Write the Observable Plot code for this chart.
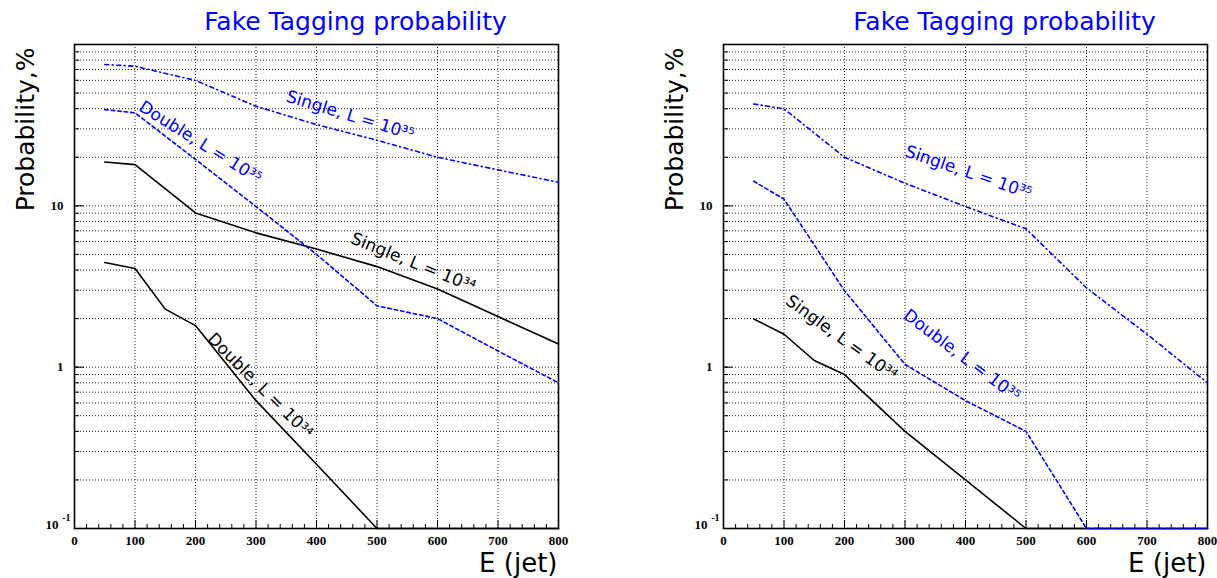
<!DOCTYPE html>
<html><head><meta charset="utf-8">
<script src="https://cdn.jsdelivr.net/npm/d3@7"></script>
<script src="https://cdn.jsdelivr.net/npm/@observablehq/plot@0.6"></script>
<style>
body{margin:0;background:#fff;}
#wrap{position:relative;width:1217px;height:578px;overflow:hidden;}
#wrap svg{position:absolute;top:0;}
</style></head><body><div id="wrap"></div>
<script>
// ---- Data ----
const titleText = "Fake Tagging probability";
const yLabelText = "Probability,%";
const xLabelText = "E (jet)";

const xTickValues = [0, 100, 200, 300, 400, 500, 600, 700, 800];
const xGridValues = [100, 200, 300, 400, 500, 600, 700];
const xMinorValues = d3.range(20, 800, 20).filter(v => v % 100 !== 0);
const yTickValues = [1, 10];
const yTickLabels = ["1", "10"];
const yGridValues = [0.2,0.3,0.4,0.5,0.6,0.7,0.8,0.9,1,2,3,4,5,6,7,8,9,10,20,30,40,50,60,70,80,90];
const yMajorValues = [1, 10];
const yBottomMantissa = "10";
const yBottomExponent = "-1";

// Left panel
const leftSingle35E = [50,100,200,300,400,500,600,700,800];
const leftSingle35P = [75.2,73.3,59.9,41.4,31.9,25.5,20,16.7,14];
const leftDouble35E = [50,100,200,300,400,500,600,700,800];
const leftDouble35P = [39.5,37.7,19.4,9.9,5.0,2.4,2.0,1.26,0.8];
const leftSingle34E = [50,100,200,300,400,500,600,700,800];
const leftSingle34P = [18.7,18.0,9.03,6.8,5.4,4.2,3.05,2.06,1.39];
const leftDouble34E = [50,100,150,200,300,400,500,600,700,800];
const leftDouble34P = [4.45,4.09,2.29,1.81,0.62,0.25,0.1,0.1,0.1,0.1];

// Right panel
const rightSingle35E = [50,100,200,300,400,500,600,700,800];
const rightSingle35P = [42.8,39.9,20,13.8,9.9,7.2,3.1,1.6,0.8];
const rightDouble35E = [50,100,200,300,400,500,600,700,800];
const rightDouble35P = [14.2,11.0,2.98,1.04,0.62,0.4,0.1,0.1,0.1];
const rightSingle34E = [50,100,150,200,300,400,500,600,700,800];
const rightSingle34P = [1.99,1.6,1.1,0.9,0.4,0.2,0.1,0.1,0.1,0.1];

// Curve labels: text, anchor E, anchor P, angle
const leftLabelText  = ["Single, L = 10³⁵", "Double, L = 10³⁵", "Single, L = 10³⁴", "Double, L = 10³⁴"];
const leftLabelE     = [456, 208, 560, 307];
const leftLabelP     = [36.3, 24.7, 4.45, 0.767];
const leftLabelAngle = [17, 32, 22, 45];
const leftLabelKind  = ["35", "35", "34", "34"];

const rightLabelText  = ["Single, L = 10³⁵", "Double, L = 10³⁵", "Single, L = 10³⁴"];
const rightLabelE     = [405, 394, 195];
const rightLabelP     = [16.1, 1.18, 1.52];
const rightLabelAngle = [19, 37, 36];
const rightLabelKind  = ["35", "35", "34"];

// ---- Styles ----
const BLUE = "#0000ff";
const SANS = "DejaVu Sans";
const SERIF = "Liberation Serif";

function zip(E, P) { return E.map((e, i) => ({e, p: P[i]})); }
function labels(T, E, P, A, K) { return T.map((t, i) => ({t, e: E[i], p: P[i], a: A[i], k: K[i]})); }

function chart({width, marginLeft, marginRight, lines, labs}) {
  const H = 578, mt = 44, mb = 50;
  const ph = H - mt - mb, pw = width - marginLeft - marginRight;
  const grid = {stroke: "#222", strokeDasharray: "1,2", strokeWidth: 1};
  const lineMarks = lines.map(l => Plot.line(l.data, {
    x: "e", y: "p", stroke: l.stroke, strokeWidth: l.width,
    strokeDasharray: l.dash
  }));
  return Plot.plot({
    width, height: H, marginTop: mt, marginBottom: mb, marginLeft, marginRight,
    x: {domain: [0, 800]},
    y: {type: "log", domain: [0.1, 100]},
    style: {background: "transparent", overflow: "visible", fontFamily: SANS},
    marks: [
      Plot.ruleX(xGridValues, grid),
      Plot.ruleY(yGridValues, grid),
      Plot.ruleX(xMinorValues, {insetTop: ph - 4, stroke: "#000"}),
      Plot.ruleX(xGridValues, {insetTop: ph - 8, stroke: "#000"}),
      Plot.ruleY(yGridValues, {insetRight: pw - 5, stroke: "#000"}),
      Plot.ruleY(yMajorValues, {insetRight: pw - 10, stroke: "#000"}),
      Plot.frame({stroke: "#000", strokeWidth: 1.6}),
      ...lineMarks,
      Plot.axisX({ticks: xTickValues, tickSize: 0, tickPadding: 7, label: null,
        fontSize: 13, fontWeight: "bold", fontFamily: SERIF, tickFormat: d => String(d)}),
      Plot.axisY({ticks: yTickValues, tickSize: 0, tickPadding: 11, label: null,
        fontSize: 13, fontWeight: "bold", fontFamily: SERIF,
        tickFormat: d => yTickLabels[yTickValues.indexOf(d)]}),
      Plot.text([yBottomMantissa], {frameAnchor: "bottom-left", text: d => d, textAnchor: "end",
        dx: -16, dy: 0, fontSize: 13, fontWeight: "bold", fontFamily: SERIF}),
      Plot.text([yBottomExponent], {frameAnchor: "bottom-left", text: d => d, textAnchor: "end",
        dx: -4, dy: -8, fontSize: 10, fontWeight: "bold", fontFamily: SERIF}),
      Plot.text(labs, {x: "e", y: "p", text: "t", rotate: "a",
        fill: d => d.k === "35" ? BLUE : "#000", fontSize: 17, fontFamily: SANS}),
      Plot.text([titleText], {frameAnchor: "top", text: d => d, dx: 39, dy: -15,
        lineAnchor: "bottom", fill: BLUE, fontSize: 25, fontFamily: SANS}),
      Plot.text([yLabelText], {frameAnchor: "top-left", text: d => d, rotate: -90,
        textAnchor: "end", lineAnchor: "bottom", dx: -41, dy: 3, fill: "#000", fontSize: 25, fontFamily: SANS}),
      Plot.text([xLabelText], {frameAnchor: "bottom-right", text: d => d, textAnchor: "end",
        lineAnchor: "bottom", dx: -1, dy: 43, fill: "#000", fontSize: 26, fontFamily: SANS})
    ]
  });
}

const solid = {stroke: "#000", width: 1.6, dash: null};
const dashed = {stroke: BLUE, width: 1.6, dash: "3.5,3"};
const dashdot = {stroke: BLUE, width: 1.6, dash: "4,3.5,1,3.5"};

const left = chart({
  width: 608, marginLeft: 74, marginRight: 50,
  lines: [
    {data: zip(leftSingle34E, leftSingle34P), ...solid},
    {data: zip(leftDouble34E, leftDouble34P), ...solid},
    {data: zip(leftDouble35E, leftDouble35P), ...dashed},
    {data: zip(leftSingle35E, leftSingle35P), ...dashdot}
  ],
  labs: labels(leftLabelText, leftLabelE, leftLabelP, leftLabelAngle, leftLabelKind)
});
const right = chart({
  width: 609, marginLeft: 115, marginRight: 10,
  lines: [
    {data: zip(rightSingle34E, rightSingle34P), ...solid},
    {data: zip(rightDouble35E, rightDouble35P), ...dashed},
    {data: zip(rightSingle35E, rightSingle35P), ...dashdot}
  ],
  labs: labels(rightLabelText, rightLabelE, rightLabelP, rightLabelAngle, rightLabelKind)
});
left.style.left = "0px";
right.style.left = "608px";
const wrap = document.getElementById("wrap");
wrap.appendChild(left);
wrap.appendChild(right);
</script>
</body></html>
